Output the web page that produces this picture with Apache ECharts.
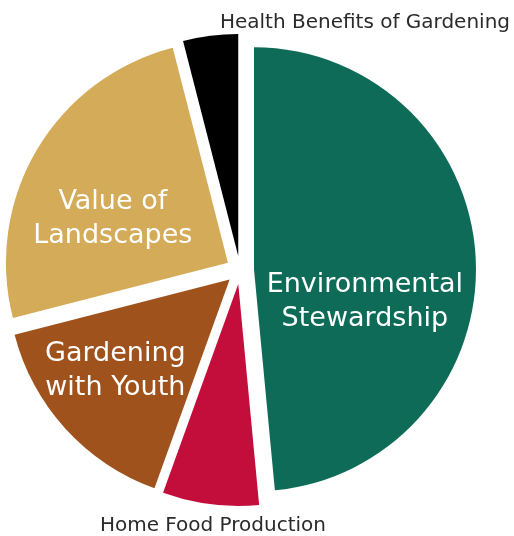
<!DOCTYPE html>
<html>
<head>
<meta charset="utf-8">
<script src="https://cdn.jsdelivr.net/npm/echarts@6/dist/echarts.min.js"></script>
<style>
  html, body { margin: 0; padding: 0; background: #fff; }
  #chart { width: 514px; height: 536px; }
</style>
</head>
<body>
<div id="chart"></div>
<script>
// clockwise from 12 o'clock
var categories = ["Environmental\nStewardship", "Home Food Production", "Gardening\nwith Youth", "Value of\nLandscapes", "Health Benefits of Gardening"];
var values = [48.5, 7, 15.5, 25, 4];
var colors = ["#0e6b58", "#c30d3b", "#a0521c", "#d4ab58", "#000000"];
var insideLabel = [true, false, true, true, false];
// label nudges from the default inside position
var labelShift = [[-3, 38], [-11, 129], [-30, 15], [-17, 14], [141, -120]];

var chart = echarts.init(document.getElementById("chart"));

var data = categories.map(function (name, i) {
    return {
        name: name,
        value: values[i],
        selected: true,
        itemStyle: { color: colors[i] },
        select: { itemStyle: { color: colors[i], borderWidth: 0 } },
        label: insideLabel[i] ? {
            color: "#fff",
            fontSize: 27,
            lineHeight: 34
        } : {
            color: "#2a2a2a",
            fontSize: 20,
            lineHeight: 24
        }
    };
});

chart.setOption({
    animation: false,
    textStyle: { fontFamily: "DejaVu Sans" },
    series: [
        {
            type: "pie",
            center: [240, 270],
            radius: [0, 222],
            startAngle: 90,
            clockwise: true,
            selectedMode: "multiple",
            selectedOffset: 14,
            emphasis: { disabled: true },
            label: {
                show: true,
                position: "inside",
                formatter: "{b}",
                fontFamily: "DejaVu Sans"
            },
            labelLine: { show: false },
            labelLayout: function (params) {
                var s = labelShift[params.dataIndex];
                return { dx: s[0], dy: s[1] };
            },
            data: data
        }
    ]
});
</script>
</body>
</html>
